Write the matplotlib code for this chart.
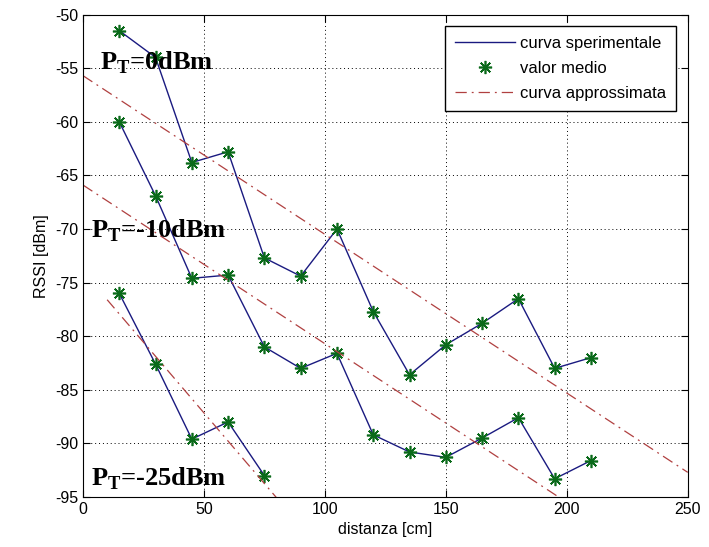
import numpy as np
import matplotlib
matplotlib.use("Agg")
import matplotlib.pyplot as plt

plt.rcParams['font.family'] = 'Liberation Sans'
plt.rcParams['axes.unicode_minus'] = False
plt.rcParams['mathtext.fontset'] = 'custom'
plt.rcParams['mathtext.rm'] = 'Liberation Serif:bold'

# distances [cm]
dist = [15, 30, 45, 60, 75, 90, 105, 120, 135, 150, 165, 180, 195, 210]
dist_25 = [15, 30, 45, 60, 75]

# mean RSSI [dBm]
rssi_0 = [-51.5, -54.0, -63.8, -62.8, -72.7, -74.4, -70.0, -77.7, -83.6, -80.8, -78.8, -76.5, -83.0, -82.0]
rssi_10 = [-60.0, -66.9, -74.6, -74.3, -81.0, -83.0, -81.6, -89.2, -90.8, -91.3, -89.5, -87.6, -93.3, -91.6]
rssi_25 = [-76.0, -82.6, -89.6, -88.0, -93.0]

# approximated curves (end points)
fit_0_x = [0, 250]
fit_0_y = [-55.7, -92.7]
fit_10_x = [0, 250]
fit_10_y = [-65.9, -102.9]
fit_25_x = [10, 90]
fit_25_y = [-76.6, -97.7]

fig = plt.figure(figsize=(7.09, 5.47), dpi=100)
ax = fig.add_axes([0.117, 0.0914, 0.853, 0.882])

blue = '#1a1a80'
green = '#0a6a1a'
red = '#b04040'
star = (8, 2, 0)

for x, y in [(dist, rssi_0), (dist, rssi_10), (dist_25, rssi_25)]:
    ax.plot(x, y, '-', color=blue, lw=1.0)
    ax.plot(x, y, marker=star, color=green, ms=9.5, mew=1.2, ls='none')
for x, y in [(fit_0_x, fit_0_y), (fit_10_x, fit_10_y), (fit_25_x, fit_25_y)]:
    ax.plot(x, y, color=red, lw=0.9, ls=(0, (9, 4, 1.5, 4)))

ax.plot([], [], '-', color=blue, lw=1.0, label='curva sperimentale')
ax.plot([], [], marker=star, color=green, ms=9.5, mew=1.2, ls='none', label='valor medio')
ax.plot([], [], color=red, lw=0.9, ls=(0, (9, 4, 1.5, 4)), label='curva approssimata')

ax.set_xlim(0, 250)
ax.set_ylim(-95, -50)
ax.set_xticks(np.arange(0, 251, 50))
ax.set_yticks(np.arange(-95, -49, 5))
ax.grid(True, color='black', linestyle=(0, (1, 3)), linewidth=0.7)
ax.tick_params(direction='in', top=True, right=True, labelsize=11.5, length=5)
ax.set_xlabel('distanza [cm]', fontsize=11.5)
ax.set_ylabel('RSSI [dBm]', fontsize=11.5)

tkw = dict(fontsize=19, fontweight='bold', family='Liberation Serif')
ax.text(7, -55.1, r'P$_{\mathrm{T}}$=0dBm', **tkw)
ax.text(3.2, -70.8, r'P$_{\mathrm{T}}$=-10dBm', **tkw)
ax.text(3.3, -93.9, r'P$_{\mathrm{T}}$=-25dBm', **tkw)

leg = ax.legend(loc='upper right', fontsize=12, fancybox=False, framealpha=1,
                edgecolor='black', borderaxespad=0.7, handlelength=3.6,
                handletextpad=0.3, labelspacing=0.6, borderpad=0.6)
leg.get_frame().set_linewidth(1.0)

fig.savefig('out.png', dpi=100)
